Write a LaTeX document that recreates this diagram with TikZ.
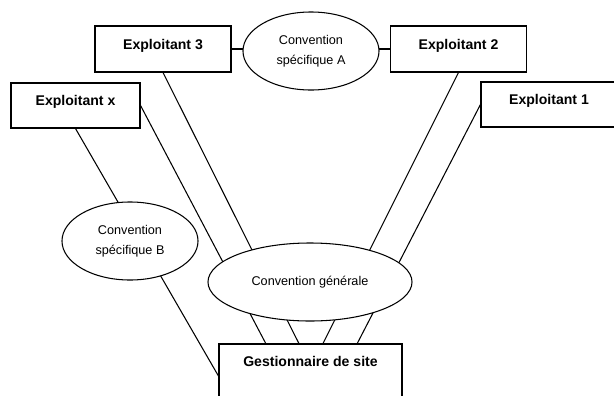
\documentclass[tikz,border=0pt]{standalone}
\usepackage{fontspec}
\setmainfont{Liberation Sans}
\usetikzlibrary{shapes.geometric,calc}
\tikzset{
exploitant/.style={draw, line width=0.75pt, fill=white, font=\fontsize{10}{12}\selectfont\bfseries,
  minimum width=3.4cm, minimum height=1.15cm, text height=7.5pt, text depth=7.5pt, inner sep=0pt},
convention/.style={draw, ellipse, line width=0.75pt, fill=white, font=\fontsize{9}{14}\selectfont,
  align=center, inner sep=0pt, minimum width=3.4cm, minimum height=1.95cm},
lien/.style={line width=0.75pt}
}
\newcommand{\surgest}[1]{($(gest.north west)!#1!(gest.north east)$)}

\begin{document}
\begin{tikzpicture}[x=0.025cm, y=-0.025cm]
\useasboundingbox (0,0) rectangle (614,396);
\clip (0,0) rectangle (614,396);

\node[exploitant] (ex3) at (163,49) {Exploitant 3};
\node[exploitant] (ex2) at (458.5,49) {Exploitant 2};
\node[exploitant, minimum width=3.225cm, minimum height=1.125cm] (exx) at (75.5,105.5) {Exploitant x};
\node[exploitant, minimum height=1.125cm] (ex1) at (549,104.5) {Exploitant 1};
\node[exploitant, minimum width=4.575cm, minimum height=1.6cm, text depth=21.7pt] (gest) at (310.5,376) {Gestionnaire de site};

% liens (derriere les conventions)
\draw[lien] (ex3.east) -- (ex2.west);
\draw[lien] (exx.south) -- (gest.west);
\draw[lien] (exx.east) -- \surgest{0.257};
\draw[lien] (ex3.south) -- \surgest{0.437};
\draw[lien] (ex2.south) -- \surgest{0.568};
\draw[lien] (ex1.west) -- \surgest{0.754};

\node[convention] (convA) at (311,51) {Convention\\spécifique A};
\node[convention] (convB) at (130,241) {Convention\\spécifique B};
\node[convention, minimum width=5.1cm] (convG) at (310,282) {Convention générale};
\end{tikzpicture}
\end{document}
